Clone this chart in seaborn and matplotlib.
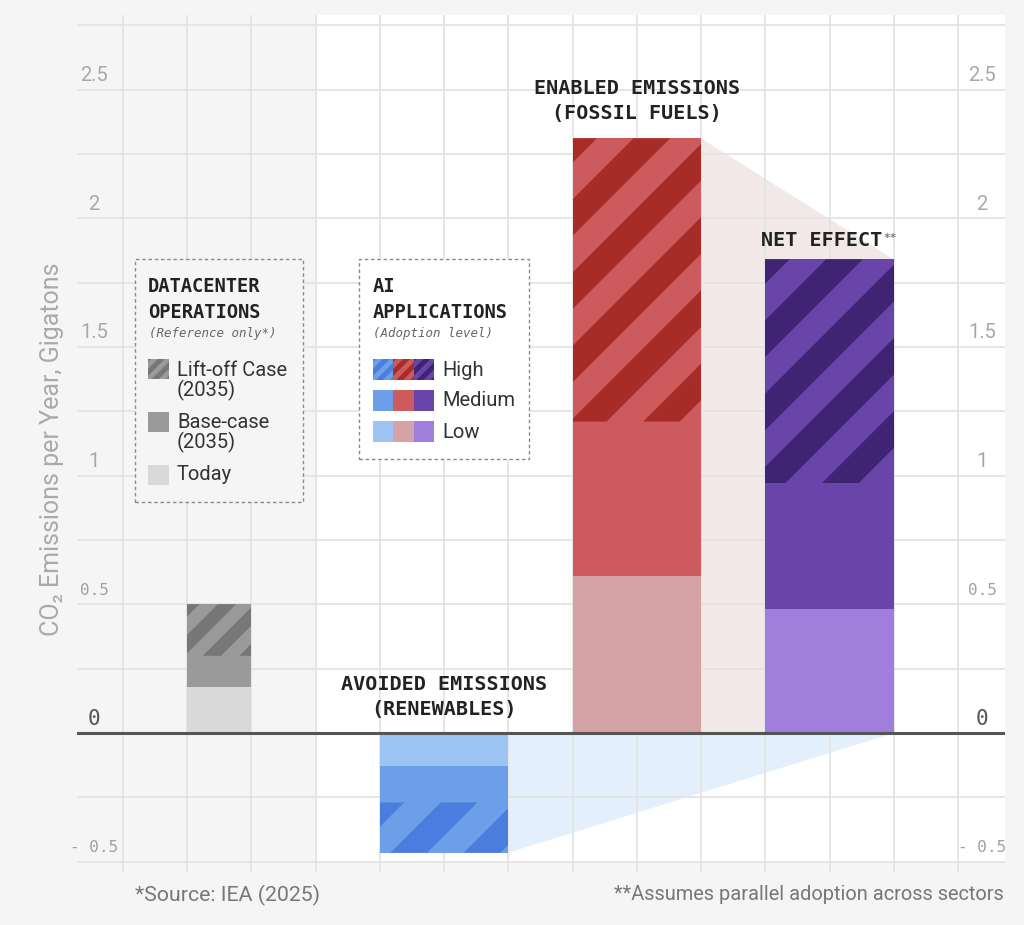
import numpy as np
import matplotlib
matplotlib.use("Agg")
import matplotlib.pyplot as plt
import seaborn as sns
from matplotlib.patches import Rectangle, Polygon
from matplotlib.transforms import blended_transform_factory

# ---------------- data ----------------
tick_values = [2.5, 2.0, 1.5, 1.0, 0.5, 0.0, -0.5]
tick_labels = ["2.5", "2", "1.5", "1", "0.5", "0", "- 0.5"]
datacenter_labels = ["Today", "Base-case\n(2035)", "Lift-off Case\n(2035)"]
datacenter_values = [0.18, 0.12, 0.20]          # Today, Base-case, Lift-off (stacked)
adoption_levels = ["Low", "Medium", "High"]
avoided_values = [-0.13, -0.14, -0.195]         # renewables (stacked, negative)
enabled_values = [0.61, 0.60, 1.10]             # fossil fuels (stacked)
net_values = [0.48, 0.49, 0.87]                 # net effect (stacked)
group_titles = ["AVOIDED EMISSIONS\n(RENEWABLES)", "ENABLED EMISSIONS\n(FOSSIL FUELS)", "NET EFFECT"]
source_note = "*Source: IEA (2025)"
assume_note = "**Assumes parallel adoption across sectors"
y_label = "CO\u2082 Emissions per Year, Gigatons"

# ---------------- style ----------------
sns.set_theme(style="white")
plt.rcParams['font.family'] = ['Roboto', 'DejaVu Sans']
MONO = 'DejaVu Sans Mono'
BG = '#f5f5f5'

gray_cols = ['#d9d9d9', '#9a9a9a', '#9a9a9a']
gray_stripe = '#777777'
blue_cols = ['#9cc5f3', '#6b9fe8', '#6b9fe8']
blue_stripe = '#4a7ddd'
red_cols = ['#d5a3a6', '#cd5a5d', '#cd5a5d']
red_stripe = '#a72b26'
purple_cols = ['#a07edc', '#6944a9', '#6944a9']
purple_stripe = '#3e2472'

W, H = 1024, 925
fig = plt.figure(figsize=(W / 100, H / 100), dpi=100, facecolor=BG)

# pixel layout helpers
X0PX, XS = 58.8, 64.23
Y0PX, YS = 733.0, 257.4
AX_L, AX_R, AX_T, AX_B = 77, 1005, 15, 878
ax = fig.add_axes([AX_L / W, 1 - AX_B / H, (AX_R - AX_L) / W, (AX_B - AX_T) / H])
ax.set_facecolor(BG)
xlim = ((AX_L - X0PX) / XS, (AX_R - X0PX) / XS)
ylim = ((Y0PX - AX_B) / YS, (Y0PX - AX_T) / YS)
ax.set_xlim(*xlim)
ax.set_ylim(*ylim)
for s in ax.spines.values():
    s.set_visible(False)
ax.set_xticks([])
ax.set_yticks([])


def fx(px):
    return px / W


def fy(py):
    return 1 - py / H


def stripe_polys(L, B, R, T, P, frac=0.5, off=-0.17):
    """Parallelogram bands of '/' stripes in display coords (y up)."""
    w = P * frac
    c0 = L + off * P - T
    kmin = int(np.floor(((L - T) - c0) / P)) - 1
    kmax = int(np.ceil(((R - B) - c0) / P)) + 1
    polys = []
    for k in range(kmin, kmax + 1):
        a = c0 + k * P
        polys.append([(a + B, B), (a + B + w, B), (a + T + w, T), (a + T, T)])
    return polys


def add_bar_stripes(rect, color, P):
    x0, y0 = rect.get_x(), rect.get_y()
    x1, y1 = x0 + rect.get_width(), y0 + rect.get_height()
    (L, B), (R, T) = ax.transData.transform([(x0, min(y0, y1)), (x1, max(y0, y1))])
    inv = ax.transData.inverted()
    for poly in stripe_polys(L, B, R, T, P):
        pg = Polygon(inv.transform(poly), closed=True, facecolor=color, edgecolor='none',
                     lw=0, zorder=rect.get_zorder() + 0.1)
        ax.add_patch(pg)
        pg.set_clip_path(rect)


# white plotting region (right part)
ax.add_patch(Rectangle((4, -0.5), xlim[1] - 4, ylim[1] + 0.5, facecolor='white',
                       edgecolor='none', zorder=0))

# connector shapes (derived from bar totals)
enabled_top = sum(enabled_values)
net_top = sum(net_values)
avoided_bottom = sum(avoided_values)
ax.add_patch(Polygon([(10, enabled_top), (13, net_top), (13, 0), (10, 0)], closed=True,
                     facecolor='#f3e8e8', edgecolor='none', zorder=0.5))
ax.add_patch(Polygon([(7, 0), (7, avoided_bottom), (13, 0)], closed=True,
                     facecolor='#e3f0fb', edgecolor='none', zorder=0.5))

# grid
grid_c = '#e2e2e2'
ax.hlines(np.arange(-0.5, 2.76, 0.25), xlim[0], xlim[1], color=grid_c, lw=1.2, zorder=1)
ax.vlines(np.arange(1, 15), (Y0PX - 872) / YS, ylim[1], color=grid_c, lw=1.2, zorder=1)

# stacked bars
groups = [
    (2, 1, datacenter_values, gray_cols, gray_stripe),
    (5, 2, avoided_values, blue_cols, blue_stripe),
    (8, 2, enabled_values, red_cols, red_stripe),
    (11, 2, net_values, purple_cols, purple_stripe),
]
for x_left, width, vals, cols, scol in groups:
    bottom = 0.0
    for i, v in enumerate(vals):
        bars = ax.bar(x_left, v, width=width, bottom=bottom, align='edge',
                      color=cols[i], lw=0, zorder=3)
        if i == 2:
            P = 0.57 * width * XS
            add_bar_stripes(bars.patches[0], scol, P)
        bottom += v

# zero line
ax.axhline(0, color='#555555', lw=2.2, zorder=5)

# y tick labels (inside, above gridlines), both sides
blend = blended_transform_factory(ax.transAxes, ax.transData)
lx = (94 - AX_L) / (AX_R - AX_L)
rx = (982 - AX_L) / (AX_R - AX_L)
dy = 14 / YS
for v, lab in zip(tick_values, tick_labels):
    if v >= 1:
        kw = dict(fontsize=14.5, color='#a8a8a8')
    elif v == 0:
        kw = dict(fontsize=15, color='#555555', family=MONO)
    else:
        kw = dict(fontsize=11.5, color='#a0a0a0', family=MONO)
    for xx in (lx, rx):
        ax.text(xx, v + dy, lab, transform=blend, ha='center', va='center', zorder=6, **kw)

# group titles
ax.text(6, 0.14, group_titles[0], ha='center', va='center', fontsize=14.5,
        family=MONO, weight='bold', color='#222222', linespacing=1.35, zorder=6)
ax.text(9, 2.455, group_titles[1], ha='center', va='center', fontsize=14.5,
        family=MONO, weight='bold', color='#222222', linespacing=1.35, zorder=6)
ax.text(12.82, 1.915, group_titles[2], ha='right', va='center', fontsize=14.5,
        family=MONO, weight='bold', color='#222222', zorder=6)
ax.text(12.84, 1.925, "**", ha='left', va='center', fontsize=8,
        family=MONO, weight='bold', color='#777777', zorder=6)

# y label
fig.text(fx(52), fy(449), y_label, rotation=90, ha='center', va='center',
         fontsize=18, color='#aaaaaa')

# footnotes
fig.text(fx(135), fy(895), source_note, ha='left', va='center', fontsize=15.3, color='#777777')
fig.text(fx(1004), fy(895), assume_note, ha='right', va='center', fontsize=14.4, color='#777777')


# ---------------- legend boxes ----------------
def fig_rect(x0, y0, x1, y1, **kw):
    r = Rectangle((fx(x0), fy(y1)), fx(x1) - fx(x0), fy(y0) - fy(y1),
                  transform=fig.transFigure, **kw)
    fig.add_artist(r)
    return r


def fig_swatch(x0, y0, x1, y1, color, stripe=None, P=14):
    r = fig_rect(x0, y0, x1, y1, facecolor=color, edgecolor='none', lw=0, zorder=4)
    if stripe is not None:
        (L, B), (R, T) = fig.transFigure.transform([(fx(x0), fy(y1)), (fx(x1), fy(y0))])
        inv = fig.transFigure.inverted()
        for poly in stripe_polys(L, B, R, T, P, off=-0.3):
            pg = Polygon(inv.transform(poly), closed=True, facecolor=stripe, edgecolor='none',
                         lw=0, transform=fig.transFigure, zorder=4.1)
            fig.add_artist(pg)
            pg.set_clip_path(r)


box_kw = dict(edgecolor='#8a8a8a', lw=1.0, linestyle=(0, (2.5, 2)), zorder=3)
fig_rect(135, 259, 303, 502, facecolor=BG, **box_kw)
fig_rect(359, 259, 529, 459, facecolor='white', **box_kw)

title_kw = dict(fontsize=13.5, family=MONO, weight='bold', color='#222222', va='center', ha='left', zorder=5)
sub_kw = dict(fontsize=9, family=MONO, style='italic', color='#666666', va='center', ha='left', zorder=5)
lab_kw = dict(fontsize=14.5, color='#333333', va='center', ha='left', zorder=5, linespacing=1.05)

fig.text(fx(148), fy(287), "DATACENTER", **title_kw)
fig.text(fx(148), fy(312), "OPERATIONS", **title_kw)
fig.text(fx(149), fy(333), "(Reference only*)", **sub_kw)

# datacenter legend (top -> bottom: Lift-off, Base-case, Today)
dc_rows = [(359, 381, 2), (412, 433, 1), (465, 486, 0)]
for y0, ytext, idx in dc_rows:
    fig_swatch(148, y0, 169, y0 + 20, gray_cols[idx], stripe=gray_stripe if idx == 2 else None)
    fig.text(fx(177), fy(ytext) if '\n' in datacenter_labels[idx] else fy(y0 + 10),
             datacenter_labels[idx], **lab_kw)

fig.text(fx(373), fy(287), "AI", **title_kw)
fig.text(fx(373), fy(312), "APPLICATIONS", **title_kw)
fig.text(fx(373), fy(333), "(Adoption level)", **sub_kw)

ai_rows = [(359, 2), (390, 1), (421, 0)]
for y0, idx in ai_rows:
    for j, (cols, scol) in enumerate([(blue_cols, blue_stripe), (red_cols, red_stripe),
                                       (purple_cols, purple_stripe)]):
        fig_swatch(373 + 20.3 * j, y0, 373 + 20.3 * (j + 1), y0 + 21, cols[idx],
                   stripe=scol if idx == 2 else None)
    fig.text(fx(442), fy(y0 + 11), adoption_levels[idx], **lab_kw)

fig.savefig("out.png", dpi=100, facecolor=BG)
